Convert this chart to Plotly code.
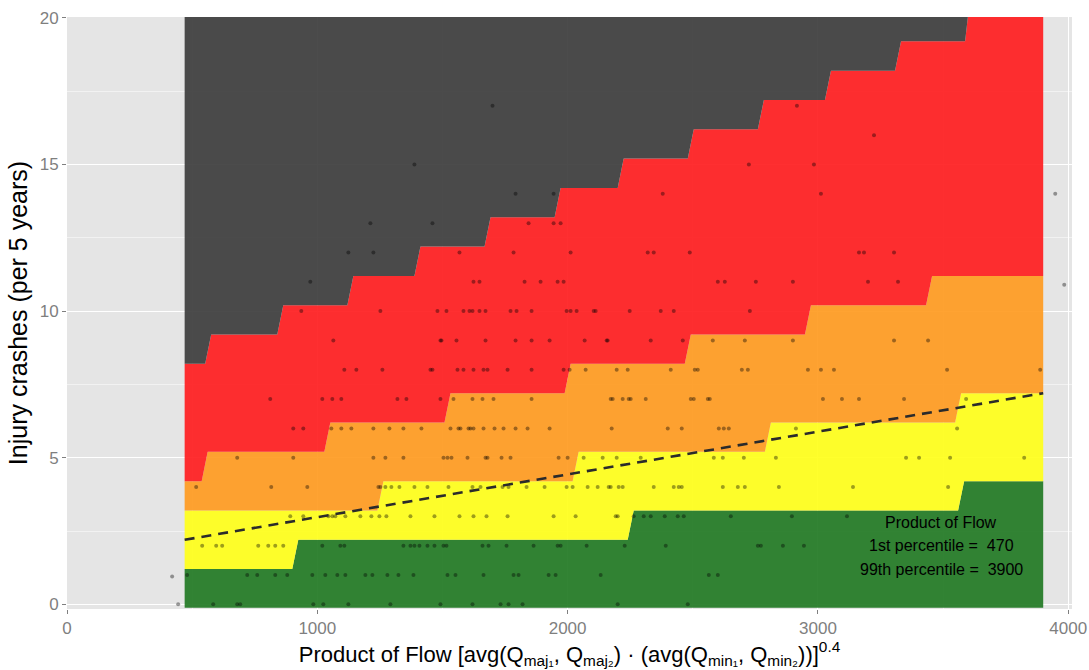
import plotly.graph_objects as go

# ---------------- data ----------------
X_MIN, X_MAX = 470, 3900          # 1st / 99th percentile of product of flow

# step boundaries between risk bands (x where a step starts, level of step)
green_top_x = [470, 912, 2252, 3572]
green_top_y = [1.2, 2.2, 3.2, 4.2]
yellow_top_x = [470, 1252, 2032, 2800, 3560]
yellow_top_y = [3.2, 4.2, 5.2, 6.2, 7.2]
orange_top_x = [470, 550, 1040, 1520, 2000, 2480, 2960, 3444]
orange_top_y = [4.2, 5.2, 6.2, 7.2, 8.2, 9.2, 10.2, 11.2]
red_top_x = [470, 564, 852, 1132, 1400, 1680, 1960, 2212, 2492, 2772, 3040, 3320, 3600]
red_top_y = [8.2, 9.2, 10.2, 11.2, 12.2, 13.2, 14.2, 15.2, 16.2, 17.2, 18.2, 19.2, 21.0]

# fitted line (dashed)
fit_x = [470, 3900]
fit_y = [2.2, 7.2]

# observed sites: product of flow, grouped by injury crash count
flow_0 = [444, 584, 680, 692, 984, 1024, 1124, 1292, 1492, 1620, 1732, 1764, 1820, 2200, 2480]
flow_1 = [420, 480, 720, 760, 832, 880, 980, 1032, 1080, 1112, 1192, 1220, 1280, 1324, 1384, 1520,
          1552, 1664, 1784, 1804, 1924, 1952, 2132, 2564, 2600]
flow_2 = [540, 596, 620, 764, 804, 832, 864, 1020, 1092, 1108, 1344, 1372, 1388, 1408, 1440, 1468,
          1504, 1516, 1660, 1684, 1756, 1864, 1960, 1972, 2076, 2228, 2392, 2760, 2772, 2860, 2944]
flow_3 = [892, 944, 1044, 1060, 1072, 1112, 1172, 1216, 1248, 1276, 1372, 1468, 1568, 1624, 1676,
          1760, 1944, 2032, 2192, 2200, 2264, 2304, 2332, 2388, 2440, 2464, 2652, 2896, 3116]
flow_4 = [516, 816, 960, 1244, 1252, 1272, 1296, 1328, 1388, 1440, 1524, 1620, 1652, 1740, 1764,
          1836, 1908, 1996, 2020, 2080, 2120, 2164, 2172, 2204, 2220, 2344, 2424, 2444, 2456, 2620,
          2680, 2708, 2844, 3140, 3520]
flow_5 = [680, 904, 1224, 1272, 1344, 1504, 1520, 1536, 1600, 1672, 1680, 1736, 1772, 1964, 2000,
          2064, 2140, 2196, 2292, 2584, 2620, 2704, 2832, 3352, 3404, 3528, 3824]
flow_6 = [904, 944, 1056, 1096, 1136, 1224, 1288, 1344, 1416, 1532, 1564, 1572, 1604, 1612, 1624,
          1664, 1708, 1744, 1792, 1840, 1928, 2176, 2400, 2456, 2604, 2624, 2644, 2912, 3556]
flow_7 = [812, 1020, 1060, 1096, 1320, 1356, 1492, 1544, 1620, 1660, 1704, 1856, 2172, 2180, 2220,
          2244, 2252, 2312, 2492, 2504, 2560, 2568, 3020, 3096, 3164, 3344, 3592]
flow_8 = [1108, 1156, 1260, 1452, 1460, 1560, 1584, 1624, 1664, 1680, 1760, 1856, 1984, 2008, 2072,
          2196, 2240, 2412, 2508, 2520, 2696, 2720, 2960, 3012, 3064, 3516, 3888]
flow_9 = [1064, 1492, 1496, 1556, 1672, 1792, 1856, 1928, 2068, 2156, 2160, 2332, 2460, 2580, 2708,
          2900, 3304, 3440]
flow_10 = [936, 1252, 1480, 1516, 1584, 1608, 1620, 1648, 1672, 1772, 1796, 1856, 1996, 2012, 2036,
           2104, 2112, 2248, 2372, 2424, 2728]
flow_11 = [972, 1624, 1648, 1828, 1892, 1960, 1984, 2600, 2628, 2752, 2900, 3200, 3320, 3984]
flow_12 = [1124, 1224, 1568, 1784, 2012, 2320, 2344, 2488, 3164, 3184, 3304]
flow_13 = [1212, 1460, 1844, 1944, 1972]
flow_14 = [1792, 1944, 2380, 3012, 3948]
flow_15 = [1388, 2724, 2984]
flow_16 = [3224]
flow_17 = [1700, 2916]

crash_counts = list(range(18))
flows_by_count = [flow_0, flow_1, flow_2, flow_3, flow_4, flow_5, flow_6, flow_7, flow_8,
                  flow_9, flow_10, flow_11, flow_12, flow_13, flow_14, flow_15, flow_16, flow_17]

x_ticks = [0, 1000, 2000, 3000, 4000]
y_ticks = [0, 5, 10, 15, 20]

note_lines = ["Product of Flow", "1st percentile =\u00a0\u00a0470", "99th percentile =\u00a0\u00a03900"]

# ---------------- figure ----------------
def boundary(xs, ys, ramp=24):
    bx, by = [X_MIN], [ys[0]]
    for x, prev, new in zip(xs[1:], ys[:-1], ys[1:]):
        bx += [x - ramp / 2, x + ramp / 2]
        by += [prev, new]
    bx.append(X_MAX)
    by.append(ys[-1])
    return bx, by

bottom = ([X_MIN, X_MAX], [-0.12, -0.12])
top = ([X_MIN, X_MAX], [21, 21])
g = boundary(green_top_x, green_top_y)
yl = boundary(yellow_top_x, yellow_top_y)
o = boundary(orange_top_x, orange_top_y)
r = boundary(red_top_x, red_top_y)

bands = [
    (bottom, g, "rgba(36,123,38,0.93)"),
    (g, yl, "rgba(255,255,28,0.93)"),
    (yl, o, "rgba(255,156,34,0.93)"),
    (o, r, "rgba(255,31,33,0.93)"),
    (r, top, "rgba(62,62,62,0.93)"),
]

fig = go.Figure()
for lower, upper, col in bands:
    px = upper[0] + lower[0][::-1]
    py = upper[1] + lower[1][::-1]
    fig.add_trace(go.Scatter(x=px, y=py, mode="lines", fill="toself", fillcolor=col,
                             line=dict(width=0), hoverinfo="skip", showlegend=False))

pt_x, pt_y = [], []
for c, fl in zip(crash_counts, flows_by_count):
    for f in fl:
        pt_x.append(f)
        pt_y.append(0.95 if (c == 1 and f == 420) else (10.9 if (c == 11 and f == 3984) else c))

fig.add_trace(go.Scatter(x=pt_x, y=pt_y, mode="markers",
                         marker=dict(size=4, color="rgba(0,0,0,0.38)", line=dict(width=0)),
                         showlegend=False))

fig.add_trace(go.Scatter(x=fit_x, y=fit_y, mode="lines",
                         line=dict(color="#2b2b2b", width=2.6, dash="10px,7px"),
                         showlegend=False))

for i, txt in enumerate(note_lines):
    fig.add_annotation(x=3492, y=2.8 - 0.8 * i, text=txt, showarrow=False,
                       font=dict(size=16, color="black", family="Liberation Sans, Arial"),
                       xanchor="center", yanchor="middle")

axis_font = dict(size=17, color="#7f7f7f", family="Liberation Sans, Arial")
fig.update_layout(
    width=1089, height=670,
    margin=dict(l=67, r=17, t=17, b=61),
    paper_bgcolor="white", plot_bgcolor="#e5e5e5",
    font=dict(family="Liberation Sans, Arial"),
    xaxis=dict(range=[0, 4015], tickvals=x_ticks, ticktext=[str(v) for v in x_ticks],
               automargin=False,
               showgrid=True, gridcolor="white", gridwidth=1.4, zeroline=False,
               ticks="outside", ticklen=4, tickcolor="#7f7f7f", tickfont=axis_font,
               minor=dict(dtick=500, tick0=0, showgrid=True, gridcolor="#f2f2f2", gridwidth=0.6),
               title=dict(text="Product of Flow [avg(Q<sub>maj₁</sub>, Q<sub>maj₂</sub>) · (avg(Q<sub>min₁</sub>, Q<sub>min₂</sub>))]<sup>0.4</sup>",
                          font=dict(size=22, color="black"), standoff=2)),
    yaxis=dict(range=[-0.16, 20.03], tickvals=y_ticks, ticktext=[str(v) for v in y_ticks],
               automargin=False,
               showgrid=True, gridcolor="white", gridwidth=1.4, zeroline=False,
               ticks="outside", ticklen=4, tickcolor="#7f7f7f", tickfont=axis_font,
               minor=dict(dtick=2.5, tick0=0, showgrid=True, gridcolor="#f2f2f2", gridwidth=0.6),
               title=dict(text="Injury crashes (per 5 years)",
                          font=dict(size=25, color="black"), standoff=4)),
)

fig.write_html("out.html", config={"displayModeBar": False},
               post_script="document.body.style.margin='0';document.body.style.overflow='hidden';")
